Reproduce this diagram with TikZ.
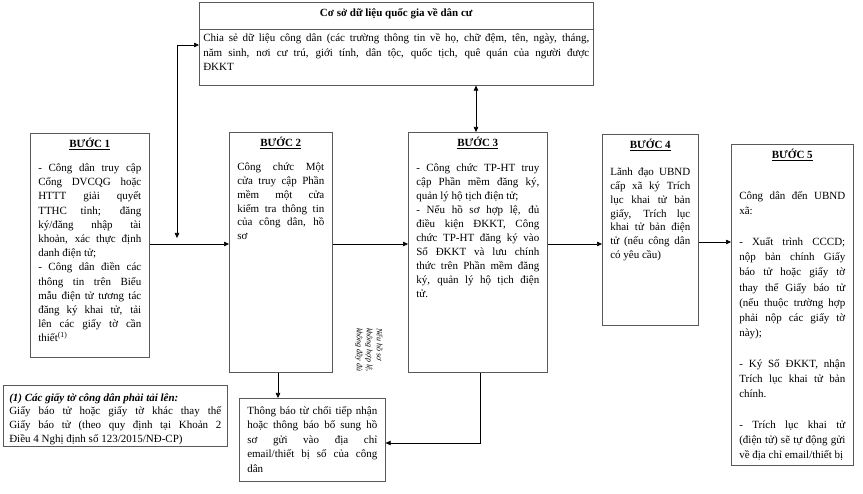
\documentclass[tikz,border=0pt]{standalone}
\usepackage{fontspec}
\setmainfont{Liberation Serif}
\usetikzlibrary{positioning}
\usetikzlibrary{arrows.meta}

\hyphenpenalty=10000
\exhyphenpenalty=10000
\tolerance=9999

\newcommand{\buoc}[1]{{\centering\textbf{\underline{#1}}\par}}

\begin{document}
\begin{tikzpicture}[x=1pt,y=-1pt]
    \tikzset{stepbox/.style = {rectangle, draw=black!65, line width=0.6pt,
                           anchor=north west, align=justify,
                           inner xsep=8pt, inner ysep=5pt, text height=9pt,
                           font=\fontsize{11}{13.7}\selectfont}}
    \tikzset{arr/.style = {-{Triangle[length=5pt,width=4.5pt]}, line width=0.6pt}}
    \tikzset{twoarr/.style = {{Triangle[length=5pt,width=4.5pt]}-{Triangle[length=5pt,width=4.5pt]}, line width=0.6pt}}

    \useasboundingbox (0,0) rectangle (863,494);

    % database
    \node (db) [stepbox, inner xsep=4pt, text width=386pt, text depth=64pt,
                font=\fontsize{11}{14.5}\selectfont] at (199,2)
        {{\centering\textbf{Cơ sở dữ liệu quốc gia về dân cư}\par}\vspace{11pt}
         Chia sẻ dữ liệu công dân (các trường thông tin về họ, chữ đệm, tên, ngày, tháng,\linebreak
         năm sinh, nơi cư trú, giới tính, dân tộc, quốc tịch, quê quán của người được\linebreak ĐKKT};
    \draw[draw=black!65, line width=0.6pt] ([yshift=-27pt]db.north west) -- ([yshift=-27pt]db.north east);

    % steps
    \node (s1) [stepbox, text width=103pt, text depth=205pt,
                font=\fontsize{11}{14.2}\selectfont] at (30,133)
        {\buoc{BƯỚC 1}\vspace{10pt}
         - Công dân truy cập\linebreak Cổng DVCQG hoặc\linebreak HTTT giải quyết\linebreak
         TTHC tỉnh; đăng\linebreak ký/đăng nhập tài\linebreak khoản, xác thực định\linebreak
         danh điện tử;\par
         - Công dân điền các\linebreak thông tin trên Biểu\linebreak mẫu điện tử tương tác\linebreak
         đăng ký khai tử, tải\linebreak lên các giấy tờ cần\linebreak thiết\textsuperscript{(1)}};
    \node (s2) [stepbox, text width=87pt, text depth=221pt] at (229,132)
        {\buoc{BƯỚC 2}\vspace{11pt}
         Công chức Một\linebreak cửa truy cập Phần\linebreak mềm một cửa\linebreak
         kiểm tra thông tin\linebreak của công dân, hồ\linebreak sơ};
    \node (s3) [stepbox, text width=123pt, text depth=221pt,
                font=\fontsize{11}{14}\selectfont] at (408,132)
        {\buoc{BƯỚC 3}\vspace{11pt}
         - Công chức TP-HT truy\linebreak cập Phần mềm đăng ký,\linebreak quản lý hộ tịch điện tử;\par
         - Nếu hồ sơ hợp lệ, đủ\linebreak điều kiện ĐKKT, Công\linebreak chức TP-HT đăng ký vào\linebreak
         Sổ ĐKKT và lưu chính\linebreak thức trên Phần mềm đăng\linebreak ký, quản lý hộ tịch điện\linebreak tử.};
    \node (s4) [stepbox, text width=80pt, text depth=172pt] at (602,134)
        {\buoc{BƯỚC 4}\vspace{14pt}
         Lãnh đạo UBND\linebreak cấp xã ký Trích\linebreak lục khai tử bản\linebreak
         giấy, Trích lục\linebreak khai tử bản điện\linebreak tử (nếu công dân\linebreak có yêu cầu)};
    \node (s5) [stepbox, text width=106pt, text depth=302pt,
                font=\fontsize{11}{15.3}\selectfont] at (731,144)
        {\buoc{BƯỚC 5}\vspace{26pt}
         Công dân đến UBND\linebreak xã:\par\vspace{15pt}
         - Xuất trình CCCD;\linebreak nộp bản chính Giấy\linebreak báo tử hoặc giấy tờ\linebreak
         thay thế Giấy báo tử\linebreak (nếu thuộc trường hợp\linebreak phải nộp các giấy tờ\linebreak này);\par\vspace{15pt}
         - Ký Số ĐKKT, nhận\linebreak Trích lục khai tử bản\linebreak chính.\par\vspace{15pt}
         - Trích lục khai tử\linebreak (điện tử) sẽ tự động gửi\linebreak về địa chỉ email/thiết bị};

    % footnote and rejection
    \node (foot) [stepbox, inner xsep=6pt, inner ysep=7pt, text width=212pt, text depth=38pt] at (3,385)
        {\textbf{\textit{(1) Các giấy tờ công dân phải tải lên:}}\\
         Giấy báo tử hoặc giấy tờ khác thay thế\linebreak Giấy báo tử (theo quy định tại Khoản 2\linebreak
         Điều 4 Nghị định số 123/2015/NĐ-CP)};
    \node (rej) [stepbox, inner ysep=7pt, text width=130pt, text depth=60pt,
                 font=\fontsize{11}{14.5}\selectfont] at (239,398)
        {Thông báo từ chối tiếp nhận\linebreak hoặc thông báo bổ sung hồ\linebreak
         sơ gửi vào địa chỉ\linebreak email/thiết bị số của công\linebreak dân};
    \node (note) [rotate=-90, align=left, font=\fontsize{8}{10}\selectfont\itshape] at (369,350)
        {Nếu hồ sơ\\ không hợp lệ,\\ không đầy đủ};

    \coordinate (mid) at (0,244);
    \coordinate (bend) at (177,45);
    \coordinate (bendlow) at (177,238);
    \coordinate (dbx) at (476,0);
    \coordinate (backx) at (480,0);
    \coordinate (downx) at (278,0);
    \coordinate (backy) at (0,443);

    \draw[arr] (s1.east |- mid) -- (s2.west |- mid);
    \draw[arr] (s2.east |- mid) -- (s3.west |- mid);
    \draw[arr] (s3.east |- mid) -- (s4.west |- mid);
    \draw[arr] ([yshift=2pt]s4.east |- mid) -- ([yshift=2pt]s5.west |- mid);
    \draw[twoarr] (bendlow) -- (bend) -- (db.west |- bend);
    \draw[twoarr] (db.south -| dbx) -- (s3.north -| dbx);
    \draw[arr] (s2.south -| downx) -- (rej.north -| downx);
    \draw[arr] (s3.south -| backx) |- (rej.east |- backy);

\end{tikzpicture}
\end{document}
